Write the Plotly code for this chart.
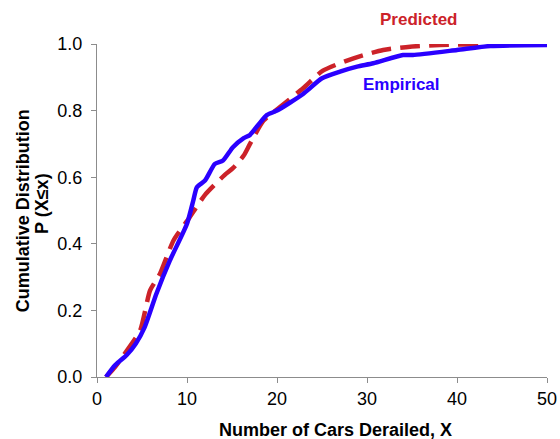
import plotly.graph_objects as go

# Empirical CDF (blue, solid)
emp_x = [1.0, 2.0, 3.3, 4.3, 5.3, 6.6, 8.1, 10.0, 10.7, 11.1, 12.0, 13.1, 14.0, 15.1, 16.3, 17.0, 18.0, 18.9, 20.0,
         22.9, 25.0, 27.0, 28.9, 30.7, 34.0, 35.1, 40.0, 43.7, 50.0]
emp_y = [0.0, 0.035, 0.066, 0.1, 0.15, 0.25, 0.35, 0.46, 0.53, 0.57, 0.59, 0.64, 0.65, 0.69, 0.717, 0.727, 0.76, 0.787, 0.80,
         0.85, 0.897, 0.917, 0.932, 0.942, 0.967, 0.967, 0.982, 0.994, 0.997]

# Predicted CDF (red, dashed)
pred_x = [1.0, 2.0, 3.5, 4.8, 5.9, 7.0, 8.5, 10.3, 12.0, 14.2, 15.1, 16.3, 17.0, 18.5, 20.3, 22.9, 25.1, 28.5,
          31.8, 34.8, 38.1, 44.0, 50.0]
pred_y = [0.0, 0.03, 0.086, 0.14, 0.26, 0.31, 0.41, 0.48, 0.547, 0.607, 0.627, 0.665, 0.70, 0.77, 0.81, 0.867, 0.92, 0.957,
          0.982, 0.992, 0.997, 1.0, 1.0]

x_ticks = [0, 10, 20, 30, 40, 50]
y_ticks = [0.0, 0.2, 0.4, 0.6, 0.8, 1.0]

BLUE = "#2a00ff"
RED = "#cc2229"
FONT = "Liberation Sans, Arial, sans-serif"

fig = go.Figure()
fig.add_trace(go.Scatter(x=pred_x, y=pred_y, mode="lines", name="Predicted",
                         line=dict(color=RED, width=4.5, dash="20px,9px", shape="spline", smoothing=0.6)))
fig.add_trace(go.Scatter(x=emp_x, y=emp_y, mode="lines", name="Empirical",
                         line=dict(color=BLUE, width=4.5, shape="spline", smoothing=0.6)))

fig.add_annotation(x=35.7, xref="x", y=1.075, yref="paper", xanchor="center", yanchor="middle",
                   text="<b>Predicted</b>", showarrow=False,
                   font=dict(color=RED, size=17, family=FONT))
fig.add_annotation(x=33.8, y=0.877, xanchor="center", yanchor="middle",
                   text="<b>Empirical</b>", showarrow=False,
                   font=dict(color=BLUE, size=17, family=FONT))

# axis titles
fig.add_annotation(xref="paper", yref="paper", x=0.53, y=-0.158, yanchor="middle",
                   text="<b>Number of Cars Derailed, X</b>", showarrow=False,
                   font=dict(color="black", size=18, family=FONT))
fig.add_annotation(xref="paper", yref="paper", x=-0.165, y=0.5, xanchor="center",
                   text="<b>Cumulative Distribution</b>", showarrow=False, textangle=-90,
                   font=dict(color="black", size=18, family=FONT))
fig.add_annotation(xref="paper", yref="paper", x=-0.122, y=0.52, xanchor="center",
                   text="<b>P (X≤x)</b>", showarrow=False, textangle=-90,
                   font=dict(color="black", size=18, family=FONT))

fig.update_layout(
    width=560, height=439,
    margin=dict(l=97, r=13, t=44, b=62),
    paper_bgcolor="white", plot_bgcolor="white",
    showlegend=False,
    font=dict(family=FONT, size=18, color="black"),
    xaxis=dict(range=[0, 50], tickvals=x_ticks, ticktext=[str(v) for v in x_ticks], automargin=False,
               showgrid=False, zeroline=False, showline=True, linecolor="#8c8c8c", linewidth=1.3,
               ticks="outside", ticklen=5, tickcolor="#8c8c8c", tickfont=dict(size=18)),
    yaxis=dict(range=[0, 1], tickvals=y_ticks, ticktext=[f"{v:.1f}" for v in y_ticks], automargin=False,
               showgrid=False, zeroline=False, showline=True, linecolor="#8c8c8c", linewidth=1.3,
               ticks="outside", ticklen=5, tickcolor="#8c8c8c", tickfont=dict(size=18),
               ticklabelstandoff=5),
)

fig.write_html("out.html", config={"displayModeBar": False},
               post_script="document.body.style.margin='0';document.body.style.overflow='hidden';")
